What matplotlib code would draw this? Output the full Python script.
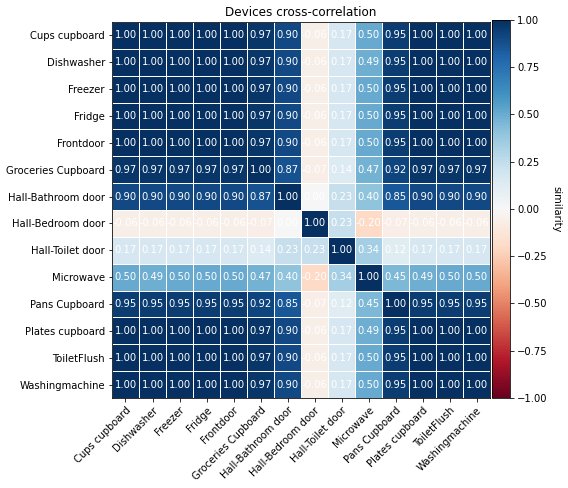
import numpy as np
import matplotlib
matplotlib.use("Agg")
import matplotlib.pyplot as plt

devices = ["Cups cupboard", "Dishwasher", "Freezer", "Fridge", "Frontdoor",
           "Groceries Cupboard", "Hall-Bathroom door", "Hall-Bedroom door",
           "Hall-Toilet door", "Microwave", "Pans Cupboard", "Plates cupboard",
           "ToiletFlush", "Washingmachine"]

cups = [1.00, 1.00, 1.00, 1.00, 1.00, 0.97, 0.90, -0.06, 0.17, 0.50, 0.95, 1.00, 1.00, 1.00]
dishwasher = [1.00, 1.00, 1.00, 1.00, 1.00, 0.97, 0.90, -0.06, 0.17, 0.49, 0.95, 1.00, 1.00, 1.00]
freezer = [1.00, 1.00, 1.00, 1.00, 1.00, 0.97, 0.90, -0.06, 0.17, 0.50, 0.95, 1.00, 1.00, 1.00]
fridge = [1.00, 1.00, 1.00, 1.00, 1.00, 0.97, 0.90, -0.06, 0.17, 0.50, 0.95, 1.00, 1.00, 1.00]
frontdoor = [1.00, 1.00, 1.00, 1.00, 1.00, 0.97, 0.90, -0.06, 0.17, 0.50, 0.95, 1.00, 1.00, 1.00]
groceries = [0.97, 0.97, 0.97, 0.97, 0.97, 1.00, 0.87, -0.07, 0.14, 0.47, 0.92, 0.97, 0.97, 0.97]
hall_bath = [0.90, 0.90, 0.90, 0.90, 0.90, 0.87, 1.00, 0.00, 0.23, 0.40, 0.85, 0.90, 0.90, 0.90]
hall_bed = [-0.06, -0.06, -0.06, -0.06, -0.06, -0.07, 0.00, 1.00, 0.23, -0.20, -0.07, -0.06, -0.06, -0.06]
hall_toilet = [0.17, 0.17, 0.17, 0.17, 0.17, 0.14, 0.23, 0.23, 1.00, 0.34, 0.12, 0.17, 0.17, 0.17]
microwave = [0.50, 0.49, 0.50, 0.50, 0.50, 0.47, 0.40, -0.20, 0.34, 1.00, 0.45, 0.49, 0.50, 0.50]
pans = [0.95, 0.95, 0.95, 0.95, 0.95, 0.92, 0.85, -0.07, 0.12, 0.45, 1.00, 0.95, 0.95, 0.95]
plates = [1.00, 1.00, 1.00, 1.00, 1.00, 0.97, 0.90, -0.06, 0.17, 0.49, 0.95, 1.00, 1.00, 1.00]
toiletflush = [1.00, 1.00, 1.00, 1.00, 1.00, 0.97, 0.90, -0.06, 0.17, 0.50, 0.95, 1.00, 1.00, 1.00]
washing = [1.00, 1.00, 1.00, 1.00, 1.00, 0.97, 0.90, -0.06, 0.17, 0.50, 0.95, 1.00, 1.00, 1.00]

corr = np.array([cups, dishwasher, freezer, fridge, frontdoor, groceries, hall_bath,
                 hall_bed, hall_toilet, microwave, pans, plates, toiletflush, washing])

fig = plt.figure(figsize=(568/72, 488/72), dpi=72)
ax = fig.add_axes([112/568, 1 - 398/488, 378/568, 376/488])
cax = fig.add_axes([492/568, 1 - 398/488, 18/568, 378/488])

im = ax.imshow(corr, cmap="RdBu", vmin=-1, vmax=1, aspect="auto")
cbar = fig.colorbar(im, cax=cax)
cbar.set_ticks([-1, -0.75, -0.5, -0.25, 0, 0.25, 0.5, 0.75, 1])
cbar.ax.set_yticklabels(["%.2f" % v if v >= 0 else "\u2212%.2f" % -v
                         for v in [-1, -0.75, -0.5, -0.25, 0, 0.25, 0.5, 0.75, 1]])
cbar.ax.set_ylabel("similarity", rotation=-90, va="bottom")

n = len(devices)
ax.set_xticks(np.arange(n))
ax.set_yticks(np.arange(n))
ax.set_xticklabels(devices, rotation=45, ha="right", rotation_mode="anchor")
ax.set_yticklabels(devices)

# white grid between the cells
ax.set_xticks(np.arange(n + 1) - .5, minor=True)
ax.set_yticks(np.arange(n + 1) - .5, minor=True)
ax.grid(which="minor", color="w", linestyle="-", linewidth=1)
ax.tick_params(which="minor", bottom=False, left=False)

for i in range(n):
    for j in range(n):
        ax.text(j, i, "%.2f" % corr[i, j] if corr[i, j] >= 0 else "-%.2f" % -corr[i, j],
                ha="center", va="center", color="w", fontsize=10)

ax.set_title("Devices cross-correlation")

fig.savefig("out.png", dpi=72)
